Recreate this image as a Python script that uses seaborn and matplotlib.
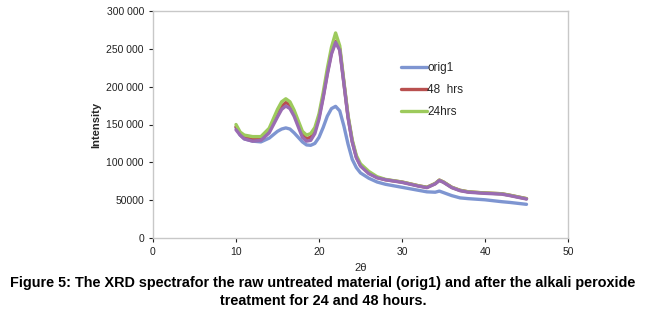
import matplotlib
matplotlib.use("Agg")
import matplotlib.pyplot as plt
import matplotlib.ticker as mticker
import numpy as np
import pandas as pd
import seaborn as sns

# data (2theta vs intensity)
two_theta = [10, 10.5, 11, 12, 13, 14, 15, 15.5, 16, 16.5, 17, 18, 18.5, 19, 19.5, 20,
             20.5, 21, 21.5, 22, 22.5, 23, 23.5, 24, 24.5, 25, 26, 27, 28, 30, 32, 33,
             34, 34.5, 35, 36, 37, 38, 40, 42, 43, 45]

orig1 = [146000, 136000, 131000, 128000, 127000, 132000, 141000, 144000, 145500, 144000, 139000,
         127000, 123000, 122500, 125000, 133000, 146000, 161000, 171000, 174000, 168000, 148000,
         124000, 104000, 93000, 86000, 79000, 74000, 71000, 67000, 63000, 61000,
         60500, 62000, 60000, 56000, 53000, 52000, 50500, 48000, 47000, 44500]

hrs48 = [147000, 138000, 133000, 130000, 131000, 142000, 163000, 174000, 179000, 176000, 165000,
         137000, 131500, 133000, 142000, 160000, 187000, 218000, 245000, 260000, 250000, 205000,
         160000, 128000, 107000, 96000, 86000, 80000, 77000, 74000, 69000, 67000,
         72000, 76500, 74000, 67000, 63000, 61000, 59500, 58500, 56500, 52000]

hrs24 = [150000, 140000, 136000, 134000, 134000, 145000, 170000, 180000, 184000, 180000, 169000,
         141000, 136000, 138000, 146000, 164000, 192000, 224000, 252000, 271000, 254000, 207000,
         162000, 130000, 109000, 98000, 88000, 81000, 77500, 74000, 69000, 67000,
         72000, 76500, 74000, 67000, 63000, 61000, 59500, 58500, 56500, 52000]

extra = [143000, 136000, 131000, 128000, 129000, 139000, 160000, 170000, 174500, 171000, 161000,
         133000, 128000, 129000, 138000, 157000, 185000, 216000, 243000, 258500, 248000, 204000,
         159000, 127000, 106000, 95000, 85000, 79500, 77000, 73500, 68500, 66500,
         71500, 76000, 73500, 66500, 62500, 60500, 59000, 58000, 56000, 51500]

series_names = ["orig1", "48  hrs", "24hrs", "_extra"]
series_colors = ["#7e95d1", "#b9504f", "#9dca5c", "#9a6bb2"]

sns.set_theme(style="white")
plt.rcParams["font.family"] = ["Liberation Sans", "DejaVu Sans"]

fig = plt.figure(figsize=(6.46, 3.18), dpi=100)
ax = fig.add_axes([153 / 646, 1 - 238 / 318, 415 / 646, 227 / 318])

for name, vals, col in zip(series_names, [orig1, hrs48, hrs24, extra], series_colors):
    df = pd.DataFrame({"x": two_theta, "y": vals})
    sns.lineplot(data=df, x="x", y="y", ax=ax, color=col, linewidth=2.4,
                 label=name, legend=False)

ax.set_xlim(0, 50)
ax.set_ylim(0, 300000)
ax.set_xticks(range(0, 51, 10))
ax.set_yticks(range(0, 300001, 50000))


def fmt(v, pos):
    v = int(v)
    if v == 0:
        return "0"
    if v < 100000:
        return f"{v}"
    return f"{v // 1000} {v % 1000:03d}"


ax.yaxis.set_major_formatter(mticker.FuncFormatter(fmt))
ax.tick_params(axis="both", labelsize=7.5, length=3, width=0.8, colors="#222222",
               direction="out", bottom=True, left=True)
for s in ["left", "bottom", "top", "right"]:
    ax.spines[s].set_color("#c8c8c8")
    ax.spines[s].set_linewidth(1.0)

ax.set_xlabel("2θ", fontsize=8, labelpad=4)
ax.set_ylabel("Intensity", fontsize=8, fontweight="bold", labelpad=4)

handles, labels = ax.get_legend_handles_labels()
keep = [(h, l) for h, l in zip(handles, labels) if not l.startswith("_")]
ax.legend([h for h, l in keep], [l for h, l in keep], loc="upper left",
          bbox_to_anchor=(0.573, 0.823), frameon=False, fontsize=8.5,
          handlelength=2.2, handletextpad=0.0, labelspacing=0.85)

fig.text(0.5, 1 - 283 / 318, "Figure 5: The XRD spectrafor the raw untreated material (orig1) and after the alkali peroxide",
         ha="center", va="center", fontsize=10.4, fontweight="bold", color="black")
fig.text(0.5, 1 - 301 / 318, "treatment for 24 and 48 hours.",
         ha="center", va="center", fontsize=10.4, fontweight="bold", color="black")

fig.savefig("out.png", dpi=100)
